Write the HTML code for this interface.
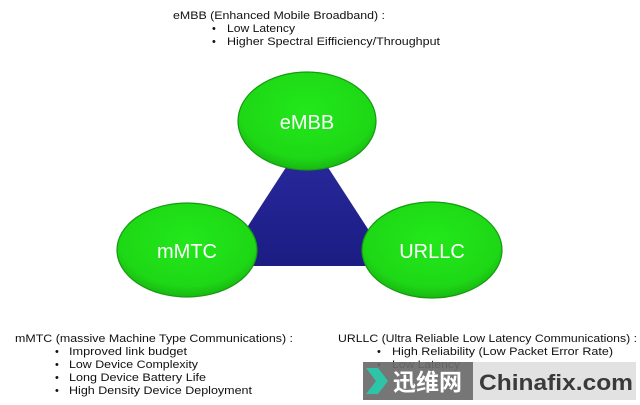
<!DOCTYPE html>
<html><head><meta charset="utf-8"><style>
html,body{margin:0;padding:0;background:#fff;width:640px;height:405px;overflow:hidden}
</style></head><body>
<svg width="640" height="405" viewBox="0 0 640 405" xmlns="http://www.w3.org/2000/svg">
<defs>
<linearGradient id="tri" x1="0" y1="0" x2="0" y2="1"><stop offset="0" stop-color="#2a2aa0"/><stop offset="1" stop-color="#1c1c84"/></linearGradient>
<radialGradient id="g" cx="0.5" cy="0.4" r="0.6"><stop offset="0" stop-color="#22e81a"/><stop offset="0.8" stop-color="#1ed816"/><stop offset="1" stop-color="#18b812"/></radialGradient>
</defs>
<g font-family="Liberation Sans, DejaVu Sans, sans-serif" font-size="11" fill="#111">
<text x="173" y="19" textLength="212" lengthAdjust="spacingAndGlyphs">eMBB (Enhanced Mobile Broadband) :</text>
<text x="212" y="32">•</text><text x="227" y="32" textLength="68" lengthAdjust="spacingAndGlyphs">Low Latency</text>
<text x="212" y="45">•</text><text x="227" y="45" textLength="213" lengthAdjust="spacingAndGlyphs">Higher Spectral Eifficiency/Throughput</text>

<text x="15" y="342" textLength="278" lengthAdjust="spacingAndGlyphs">mMTC (massive Machine Type Communications) :</text>
<text x="55" y="355">•</text><text x="69" y="355" textLength="118" lengthAdjust="spacingAndGlyphs">Improved link budget</text>
<text x="55" y="368">•</text><text x="69" y="368" textLength="129" lengthAdjust="spacingAndGlyphs">Low Device Complexity</text>
<text x="55" y="381">•</text><text x="69" y="381" textLength="137" lengthAdjust="spacingAndGlyphs">Long Device Battery Life</text>
<text x="55" y="394">•</text><text x="69" y="394" textLength="183" lengthAdjust="spacingAndGlyphs">High Density Device Deployment</text>

<text x="338" y="342" textLength="299" lengthAdjust="spacingAndGlyphs">URLLC (Ultra Reliable Low Latency Communications) :</text>
<text x="377" y="355">•</text><text x="392" y="355" textLength="221" lengthAdjust="spacingAndGlyphs">High Reliability (Low Packet Error Rate)</text>
<text x="377" y="368">•</text><text x="392" y="368" textLength="68" lengthAdjust="spacingAndGlyphs">Low Latency</text>
</g>

<polygon points="307,135 222,266 392,266" fill="url(#tri)"/>
<g stroke="#159a10" stroke-width="1.2" fill="url(#g)">
<ellipse cx="307" cy="121" rx="69" ry="49"/>
<ellipse cx="187" cy="250" rx="70" ry="47"/>
<ellipse cx="432" cy="250" rx="70" ry="48"/>
</g>
<g font-family="Liberation Sans, sans-serif" font-size="20" fill="#fff" text-anchor="middle">
<text x="307" y="129">eMBB</text>
<text x="187" y="258">mMTC</text>
<text x="432" y="258">URLLC</text>
</g>

<rect x="363" y="362" width="110" height="38" fill="#6a6a6a" opacity="0.92"/>
<rect x="473" y="362" width="163" height="38" fill="#e2e2e2"/>
<polygon points="366,368 378,368 388,381 378,394 366,394 376,381" fill="#2ec4a8"/>
<text x="393" y="390" font-family="Noto Sans CJK SC, WenQuanYi Zen Hei, sans-serif" font-size="23" font-weight="bold" fill="#fff">迅维网</text>
<text x="479" y="390" font-family="Liberation Sans, sans-serif" font-size="22" font-weight="bold" fill="#3a3a3a" textLength="154" lengthAdjust="spacingAndGlyphs">Chinafix.com</text>
</svg>
</body></html>
